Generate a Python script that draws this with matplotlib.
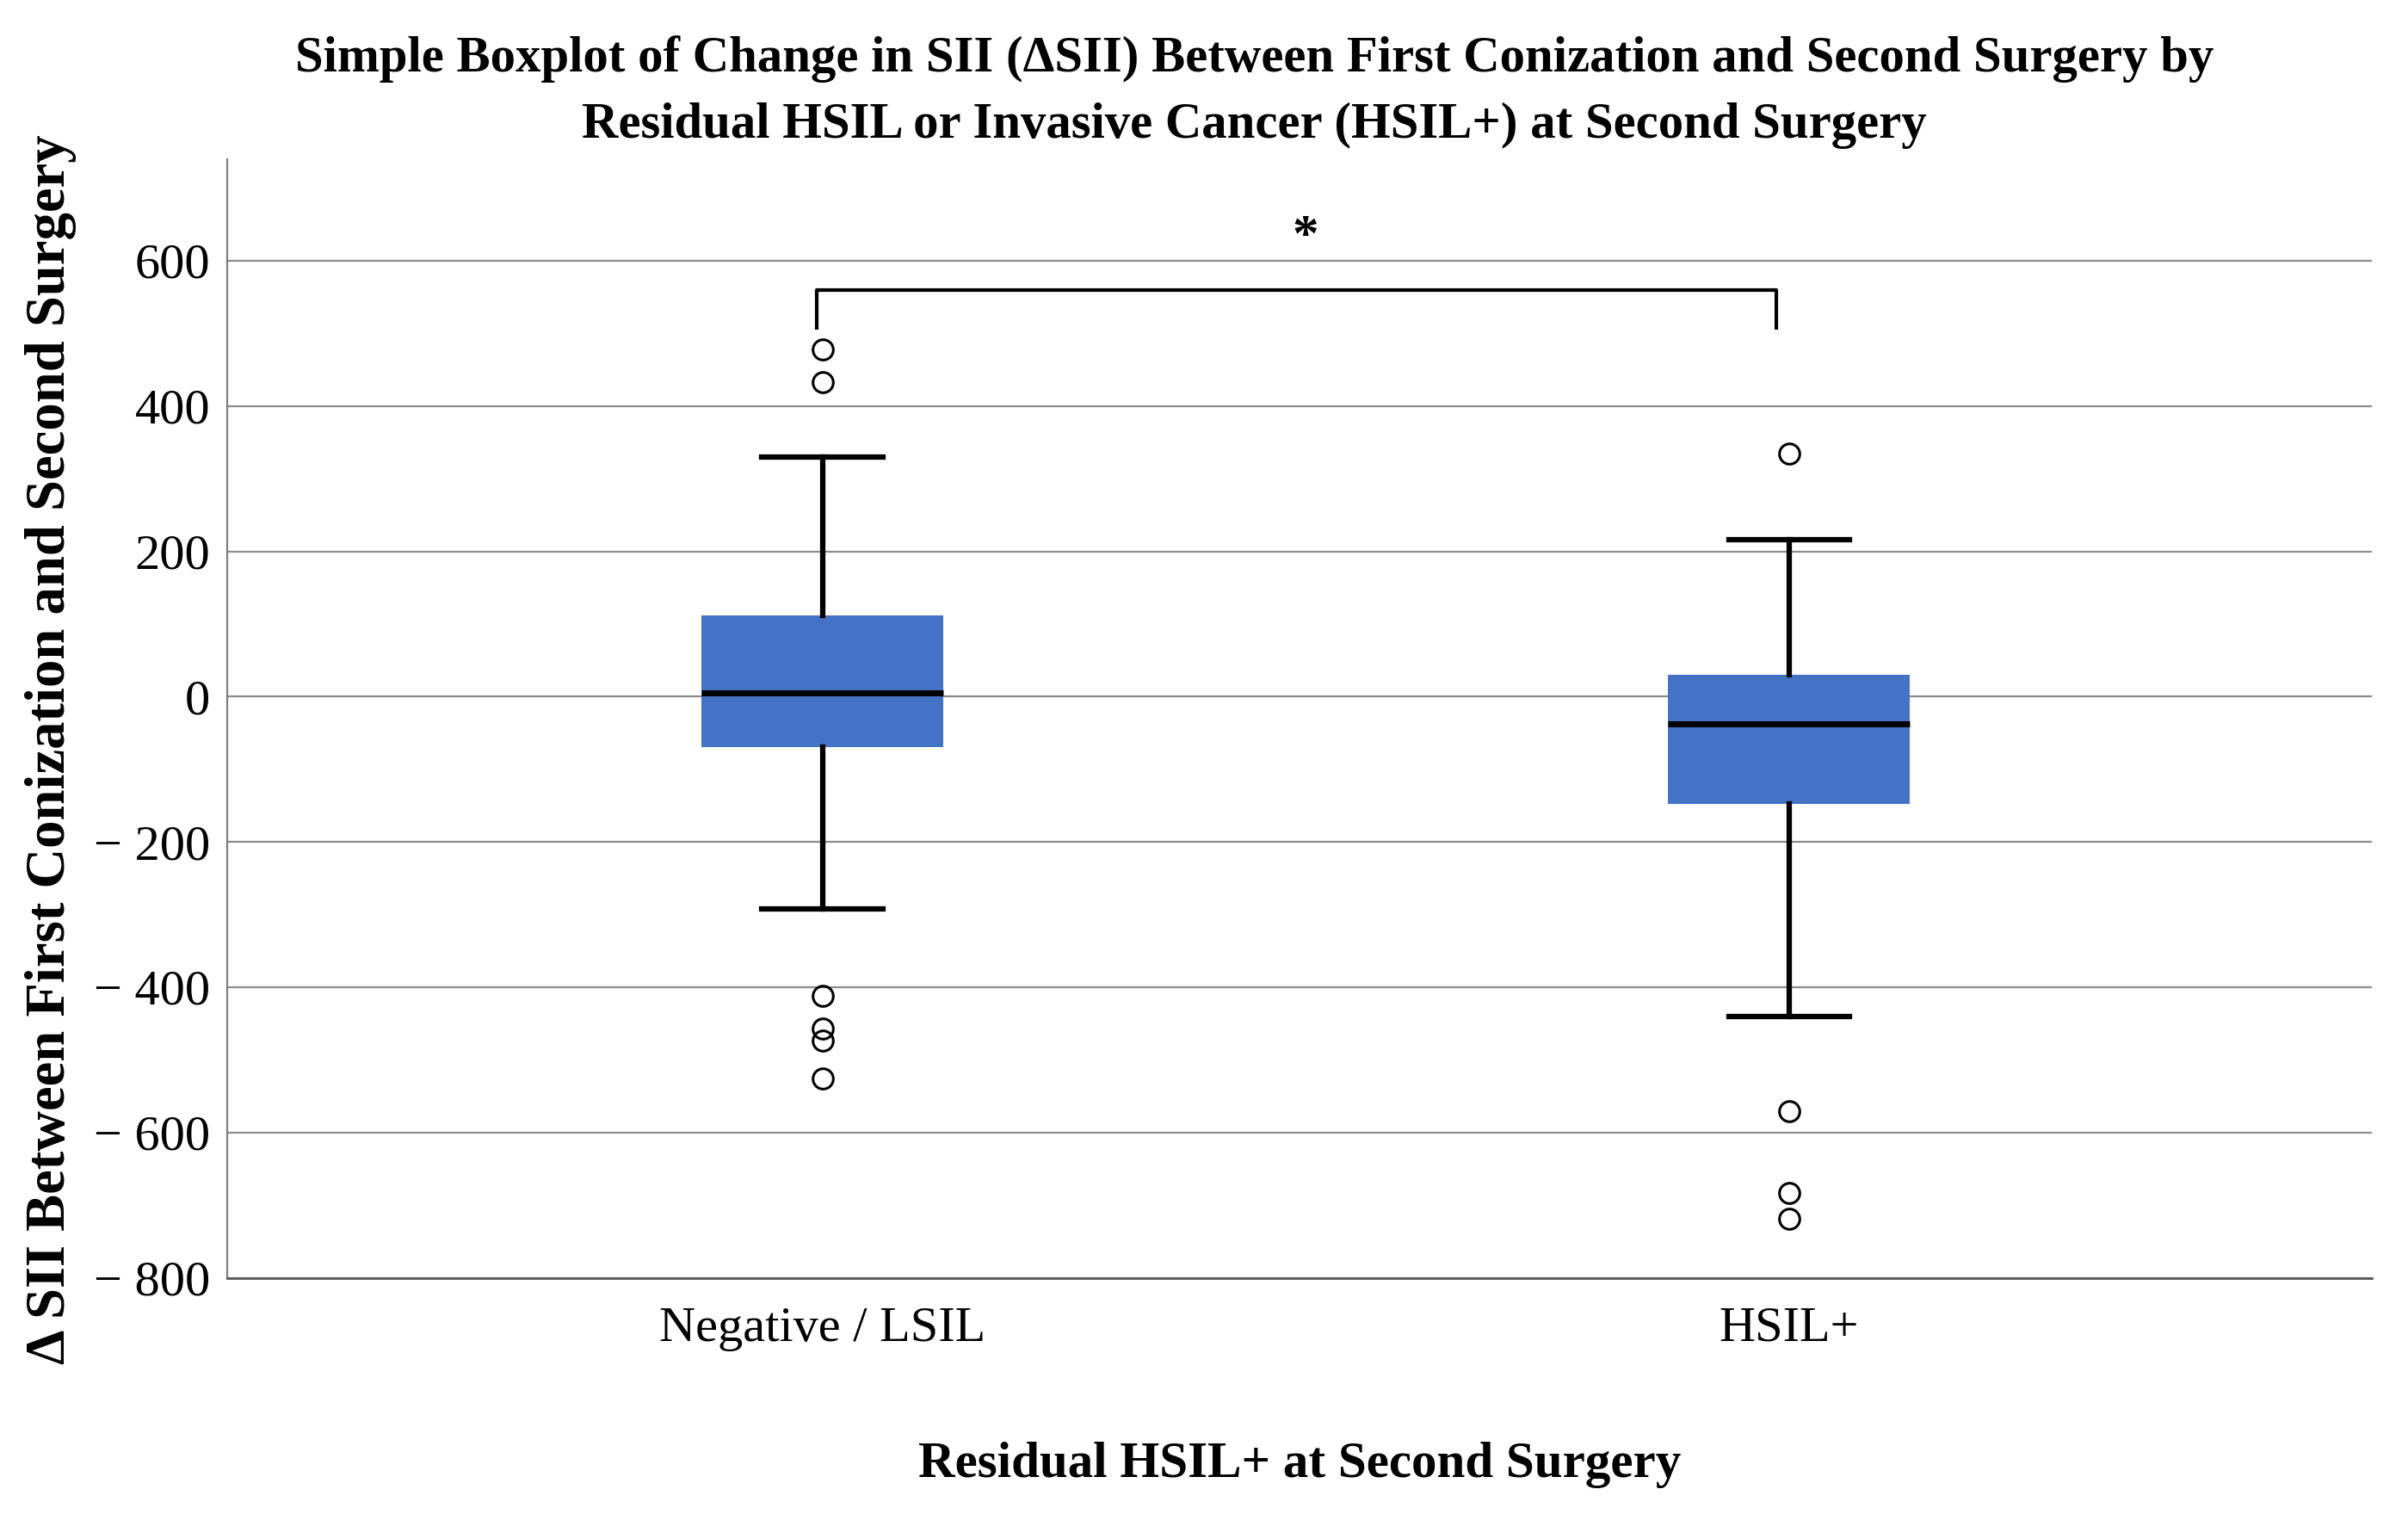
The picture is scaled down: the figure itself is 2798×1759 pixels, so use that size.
import matplotlib
matplotlib.use("Agg")
import matplotlib.pyplot as plt

plt.rcParams["font.family"] = ["Liberation Serif", "DejaVu Serif"]

# Data
groups = ["Negative / LSIL", "HSIL+"]
q1 = [-70, -148]
median = [5, -38]
q3 = [112, 30]
whisker_low = [-292, -440]
whisker_high = [330, 216]
outliers = [
    [478, 433, -412, -457, -474, -526],
    [334, -571, -683, -719],
]
y_ticks = [600, 400, 200, 0, -200, -400, -600, -800]
y_tick_labels = ["600", "400", "200", "0", "\u2212 200", "\u2212 400", "\u2212 600", "\u2212 800"]

box_color = "#4472C4"

fig = plt.figure(figsize=(27.98, 17.59), dpi=100)
ax = fig.add_axes([0.0943, 0.156, 0.8907, 0.739])

stats = []
for i, name in enumerate(groups):
    stats.append({
        "label": name,
        "q1": q1[i],
        "med": median[i],
        "q3": q3[i],
        "whislo": whisker_low[i],
        "whishi": whisker_high[i],
        "fliers": outliers[i],
    })

ax.bxp(
    stats,
    positions=[1, 2],
    widths=0.25,
    patch_artist=True,
    showfliers=True,
    boxprops=dict(facecolor=box_color, edgecolor=box_color, linewidth=0),
    medianprops=dict(color="black", linewidth=5),
    whiskerprops=dict(color="black", linewidth=4.5),
    capprops=dict(color="black", linewidth=4.5),
    capwidths=0.125,
    flierprops=dict(marker="o", markerfacecolor="none", markeredgecolor="black",
                    markersize=17, markeredgewidth=2.2),
    zorder=3,
)

# significance bracket
ax.plot([0.994, 0.994, 1.987, 1.987], [505, 560, 560, 505], color="black",
        linewidth=3, solid_joinstyle="round", solid_capstyle="butt", zorder=3)
ax.text(1.5, 632, "*", ha="center", va="center", fontsize=44, fontweight="bold")

ax.set_xlim(0.384, 2.603)
ax.set_ylim(-800, 740)
ax.set_yticks(y_ticks)
ax.set_yticklabels(y_tick_labels)
ax.set_xticks([1, 2])
ax.set_xticklabels(groups)
ax.tick_params(axis="both", length=0, labelsize=42)
ax.tick_params(axis="y", pad=14)
ax.tick_params(axis="x", pad=24)

ax.yaxis.grid(True, color="#8c8c8c", linewidth=1.6)
ax.set_axisbelow(True)
for s in ["top", "right"]:
    ax.spines[s].set_visible(False)
ax.spines["left"].set_color("#7f7f7f")
ax.spines["left"].set_linewidth(1.6)
ax.spines["bottom"].set_color("#5a5a5a")
ax.spines["bottom"].set_linewidth(2)

ax.set_xlabel("Residual HSIL+ at Second Surgery", fontsize=42.5, fontweight="bold",
              labelpad=76)
fig.text(0.021, 0.505, "\u0394 SII Between First Conization and Second Surgery",
         rotation=90, ha="center", va="center", fontsize=46.5, fontweight="bold")

fig.text(0.521, 0.939,
         "Simple Boxplot of Change in SII (\u0394SII) Between First Conization and Second Surgery by\n"
         "Residual HSIL or Invasive Cancer (HSIL+) at Second Surgery",
         ha="center", va="center", fontsize=42.3, fontweight="bold", linespacing=1.55)

fig.savefig("out.png", dpi=100, facecolor="white")
